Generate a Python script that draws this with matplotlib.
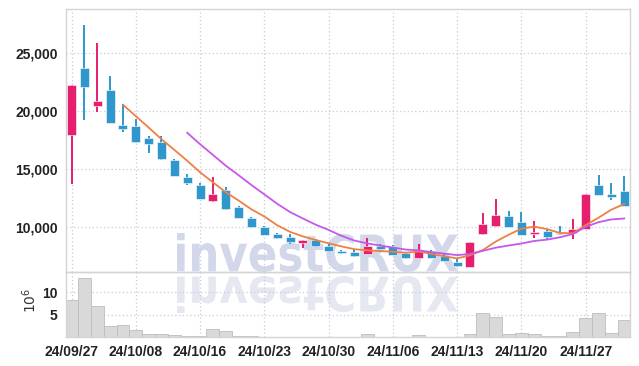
import numpy as np
import pandas as pd
import matplotlib
matplotlib.use('Agg')
import matplotlib.pyplot as plt
from matplotlib.textpath import TextPath
from matplotlib.font_manager import FontProperties
from matplotlib.patches import PathPatch
from matplotlib.transforms import Affine2D
from matplotlib.ticker import StrMethodFormatter, FixedLocator


# Data (trading days 24/09/27 .. 24/12/02)
dates = ['24/09/27', '24/09/30', '24/10/02', '24/10/04', '24/10/07', '24/10/08',
         '24/10/10', '24/10/11', '24/10/14', '24/10/15', '24/10/16', '24/10/17',
         '24/10/18', '24/10/21', '24/10/22', '24/10/23', '24/10/24', '24/10/25',
         '24/10/28', '24/10/29', '24/10/30', '24/10/31', '24/11/01', '24/11/04',
         '24/11/05', '24/11/06', '24/11/07', '24/11/08', '24/11/11', '24/11/12',
         '24/11/13', '24/11/14', '24/11/15', '24/11/18', '24/11/19', '24/11/20',
         '24/11/21', '24/11/22', '24/11/25', '24/11/26', '24/11/27', '24/11/28',
         '24/11/29', '24/12/02']
opens = [17950, 23750, 20470, 21830, 18800, 18700, 17670, 17330, 15800, 14270,
         13600, 12250, 13180, 11680, 10810, 10030, 9370, 9170, 8570, 8850,
         8360, 7900, 7840, 7670, 8360, 8330, 7750, 7350, 7930, 7530,
         6970, 6540, 9430, 10080, 10930, 10410, 9430, 9630, 9480, 9480,
         9860, 13610, 12860, 13090]
highs = [22250, 27400, 25870, 22980, 20600, 19320, 17870, 17870, 15850, 14530,
         13750, 14330, 13460, 11790, 10830, 10120, 9480, 9370, 8870, 9000,
         8500, 8050, 8100, 9020, 8530, 8480, 7770, 8530, 8000, 7700,
         7230, 8720, 11160, 12370, 11360, 11300, 10470, 9860, 10120, 10690,
         12850, 14500, 13760, 14360]
lows = [13700, 19250, 19900, 18950, 18220, 17270, 16400, 15800, 14400, 13610,
        12400, 12160, 11450, 10730, 9930, 9260, 8960, 8560, 8220, 8270,
        7840, 7640, 7400, 7640, 7990, 7550, 7200, 7330, 7330, 7040,
        6580, 6520, 9310, 9950, 9980, 9300, 9080, 8910, 9340, 8940,
        9850, 12750, 12310, 11800]
closes = [22250, 22100, 20870, 19000, 18480, 17350, 17180, 15830, 14410, 13750,
          12420, 12830, 11560, 10810, 9950, 9340, 9080, 8680, 8850, 8390,
          7925, 7750, 7490, 8330, 8100, 7610, 7350, 7990, 7350, 7060,
          6660, 8700, 10230, 11010, 10000, 9310, 9570, 9140, 9370, 9860,
          12830, 12770, 12600, 11820]
# volume in millions of shares
volumes = [8.3, 13.2, 6.95, 2.47, 2.69, 1.57, 0.67, 0.67, 0.45, 0.22,
           0.22, 1.79, 1.41, 0.2, 0.2, 0.05, 0.04, 0.03, 0.04, 0.03,
           0.03, 0.03, 0.04, 0.67, 0.05, 0.04, 0.03, 0.45, 0.04, 0.03,
           0.05, 0.67, 5.45, 4.48, 0.67, 0.9, 0.67, 0.22, 0.22, 1.12,
           4.26, 5.45, 0.9, 3.81]

df = pd.DataFrame({'open': opens, 'high': highs, 'low': lows,
                   'close': closes, 'volume': volumes}, index=dates)
df['ma5'] = df['close'].rolling(5).mean()
df['ma10'] = df['close'].rolling(10).mean()

up_col = '#e61e6e'
down_col = '#2f97cb'
grid_col = '#c5cade'
spine_col = '#d4d4d8'
W, H = 639, 366

plt.rcParams['font.family'] = ['Liberation Sans', 'DejaVu Sans']

fig = plt.figure(figsize=(W / 100, H / 100), dpi=100)
fig.patch.set_facecolor('white')


def box(x0, y0, x1, y1):
    return [x0 / W, 1 - y1 / H, (x1 - x0) / W, (y1 - y0) / H]


ax = fig.add_axes(box(66, 9, 630, 272))
axv = fig.add_axes(box(66, 272, 630, 337), sharex=ax)
for a in (ax, axv):
    a.set_facecolor('none')
    for s in a.spines.values():
        s.set_color(spine_col)
        s.set_linewidth(1)
    a.tick_params(length=0, labelsize=10, colors='#222222', pad=6)
    a.grid(True, color=grid_col, linestyle=(0, (1, 2)), linewidth=0.9)
    a.set_axisbelow(True)

x = np.arange(len(df))
is_up = df['close'] >= df['open']
colors = [up_col if u else down_col for u in is_up]

# candles
ax.vlines(x, df['low'], df['high'], colors=colors, linewidth=1.4, zorder=3)
body_lo = np.minimum(df['open'], df['close'])
body_h = np.maximum(np.abs(df['close'] - df['open']), 60)
ax.bar(x, body_h, bottom=body_lo, width=0.7, color=colors,
       edgecolor='#ffffff', linewidth=0.4, zorder=4)

ax.plot(x, df['ma5'], color='#ef8044', linewidth=1.3, zorder=5)
ax.plot(x, df['ma10'], color='#c757e8', linewidth=1.3, zorder=5)

ax.set_xlim(-0.43, 43.45)
ax.set_ylim(6110, 28800)
ax.yaxis.set_major_locator(FixedLocator([10000, 15000, 20000, 25000]))
ax.yaxis.set_major_formatter(StrMethodFormatter('{x:,.0f}'))
ax.tick_params(axis='x', labelbottom=False)

# volume
axv.bar(x, df['volume'], width=1.0, color='#d9d9d9', edgecolor='#bdbdbd',
        linewidth=0.6, zorder=2)
axv.set_ylim(0, 14.6)
axv.yaxis.set_major_locator(FixedLocator([5, 10]))
axv.xaxis.set_major_locator(FixedLocator(x[::5]))
axv.set_xticklabels(df.index[::5])
for lab in axv.get_xticklabels() + axv.get_yticklabels() + ax.get_yticklabels():
    lab.set_fontweight('bold')
fig.text(30 / W, 1 - 300 / H, '$10^6$', rotation=90, fontsize=10,
         color='#333333', ha='center', va='center', family='DejaVu Sans')

# watermark with reflection
fp = FontProperties(family='DejaVu Sans', weight='bold')
tp = TextPath((0, 0), 'investCRUX', size=100, prop=fp)
ext = tp.get_extents()


def place(path, x0, x1, y_base, y_top):
    # pixel rows counted from the top; y_top above y_base gives upright text
    sx = (x1 - x0) / W / ext.width
    sy = (y_base - y_top) / H / ext.height
    t = Affine2D().translate(-ext.x0, -ext.y0).scale(sx, sy).translate(x0 / W, 1 - y_base / H)
    return t.transform_path(path)


wm = place(tp, 177, 458, 272, 233)
fig.patches.append(PathPatch(wm, facecolor='#d2d7e9', edgecolor='none',
                             transform=fig.transFigure, zorder=-1))
ref = place(tp, 177, 458, 276, 313)
fig.patches.append(PathPatch(ref, facecolor='#e6e8f1', edgecolor='none',
                             transform=fig.transFigure, zorder=-1))

fig.savefig('out.png', dpi=100, facecolor='white')
